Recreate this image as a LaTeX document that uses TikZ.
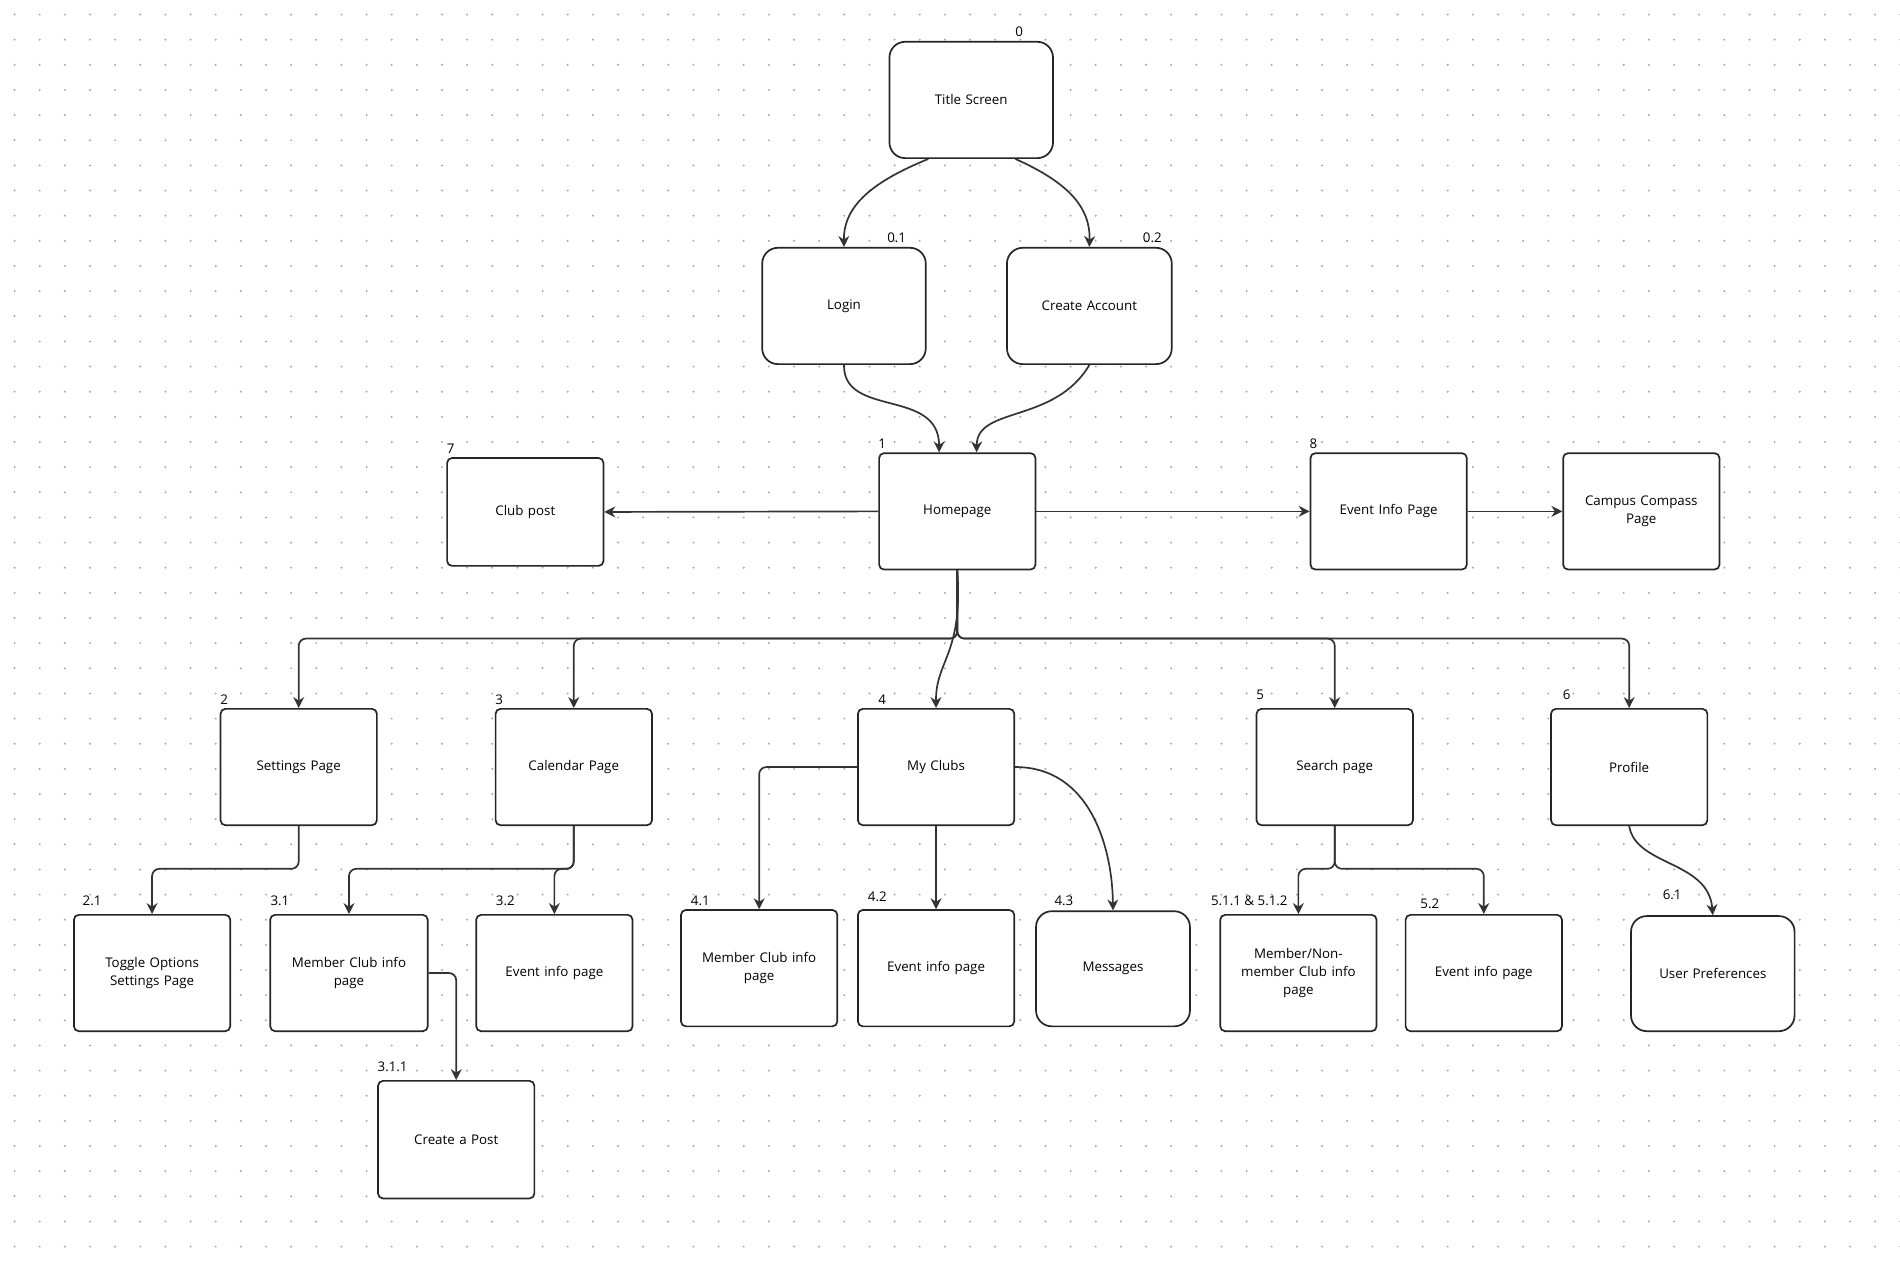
\documentclass[tikz,border=0pt]{standalone}
\usepackage{fontspec}
\setmainfont{Open Sans}
\usetikzlibrary{arrows.meta}
\begin{document}
\begin{tikzpicture}[x=1pt,y=-1pt,
 box/.style={draw=black!85,line width=1.4pt,rounded corners=4pt,fill=white,minimum width=129pt,minimum height=96pt,align=center,text width=105pt,font=\fontsize{11}{15}\selectfont},
 rbox/.style={box,rounded corners=13pt,minimum width=135pt},
 num/.style={font=\fontsize{11}{13}\selectfont,anchor=base},
 ar/.style={draw=black!80,line width=1.4pt,-{Stealth[length=9pt,width=9pt]},rounded corners=6pt}]
\useasboundingbox (0,0) rectangle (1568,1043);
\fill[white] (0,0) rectangle (1568,1043);
\foreach \i in {0,...,75}{\foreach \j in {0,...,50}{\fill[black!35] (12+20.75*\i,12+20.75*\j) circle (0.9pt);}}
\node[rbox] (title) at (801.5,82.5) {Title Screen};
\node[rbox] (login) at (696.5,252.5) {Login};
\node[rbox,minimum width=136pt] (create) at (899,252.5) {Create Account};
\node[box] (home) at (790,422) {Homepage};
\node[box,minimum height=89pt] (club) at (433.5,422.5) {Club post};
\node[box] (event) at (1146,422) {Event Info Page};
\node[box] (campus) at (1354.5,422) {Campus Compass\\Page};
\node[box] (settings) at (246.5,633) {Settings Page};
\node[box] (cal) at (473.5,633) {Calendar Page};
\node[box] (my) at (772.5,633) {My Clubs};
\node[box] (search) at (1101.5,633) {Search page};
\node[box] (profile) at (1344.5,633) {Profile};
\node[box] (toggle) at (125.5,803) {Toggle Options\\Settings Page};
\node[box,minimum width=130pt] (mci3) at (288,803) {Member Club info\\page};
\node[box] (ei3) at (457.5,803) {Event info page};
\node[box,minimum height=97pt] (post) at (376.5,940.5) {Create a Post};
\node[box] (mci4) at (626.5,799) {Member Club info\\page};
\node[box] (ei4) at (772.5,799) {Event info page};
\node[rbox,minimum width=127pt,minimum height=95pt] (msg) at (918.5,799.5) {Messages};
\node[box] (mnm) at (1071.5,803) {Member/Non-\\member Club info\\page};
\node[box] (ei5) at (1224.5,803) {Event info page};
\node[rbox,minimum height=95pt] (pref) at (1413.5,803.5) {User Preferences};
\node[num] (n0) at (841,30) {0};
\node[num] (n01) at (740,200) {0.1};
\node[num] (n02) at (951,200) {0.2};
\node[num] (n1) at (728,370) {1};
\node[num] (n7) at (372,374) {7};
\node[num] (n8) at (1084,370) {8};
\node[num] (n2) at (185,581) {2};
\node[num] (n3) at (412,581) {3};
\node[num] (n4) at (728,581) {4};
\node[num] (n5) at (1040,577) {5};
\node[num] (n6) at (1293,577) {6};
\node[num] (n21) at (76,747) {2.1};
\node[num] (n31) at (231,747) {3.1};
\node[num] (n32) at (417,747) {3.2};
\node[num] (n311) at (324,884) {3.1.1};
\node[num] (n41) at (578,747) {4.1};
\node[num] (n42) at (724,744) {4.2};
\node[num] (n43) at (878,747) {4.3};
\node[num] (n51) at (1031,747) {5.1.1 \& 5.1.2};
\node[num] (n52) at (1180,750) {5.2};
\node[num] (n61) at (1380,742) {6.1};
\draw[ar] (title.south-|766,0) .. controls (720,150) and (696,170) .. (login.north);
\draw[ar] (title.south-|838,0) .. controls (880,150) and (900,170) .. (create.north);
\draw[ar] (login.south) .. controls (696,345) and (775,320) .. (home.north-|775,0);
\draw[ar] (create.south) .. controls (870,350) and (806,335) .. (home.north-|806,0);
\draw[ar] (home.west) -- (club.east);
\draw[ar] (home.east) -- (event.west);
\draw[ar] (event.east) -- (campus.west);
\draw[ar] (home.south) |- (246.5,527) -- (settings.north);
\draw[ar] (home.south) |- (473.5,527) -- (cal.north);
\draw[ar] (home.south) .. controls (795,540) and (772,545) .. (my.north);
\draw[ar] (home.south) |- (1101.5,527) -- (search.north);
\draw[ar] (home.south) |- (1344.5,527) -- (profile.north);
\draw[ar] (settings.south) |- (125.5,717) -- (toggle.north);
\draw[ar] (cal.south) |- (288,717) -- (mci3.north);
\draw[ar] (cal.south) |- (457.5,717) -- (ei3.north);
\draw[ar] (mci3.east) -| (post.north);
\draw[ar] (my.west) -| (mci4.north);
\draw[ar] (my.south) -- (ei4.north);
\draw[ar] (my.east) .. controls (900,633) and (918,700) .. (msg.north);
\draw[ar] (search.south) |- (1071.5,717) -- (mnm.north);
\draw[ar] (search.south) |- (1224.5,717) -- (ei5.north);
\draw[ar] (profile.south) .. controls (1350,715) and (1410,710) .. (pref.north);
\end{tikzpicture}
\end{document}
